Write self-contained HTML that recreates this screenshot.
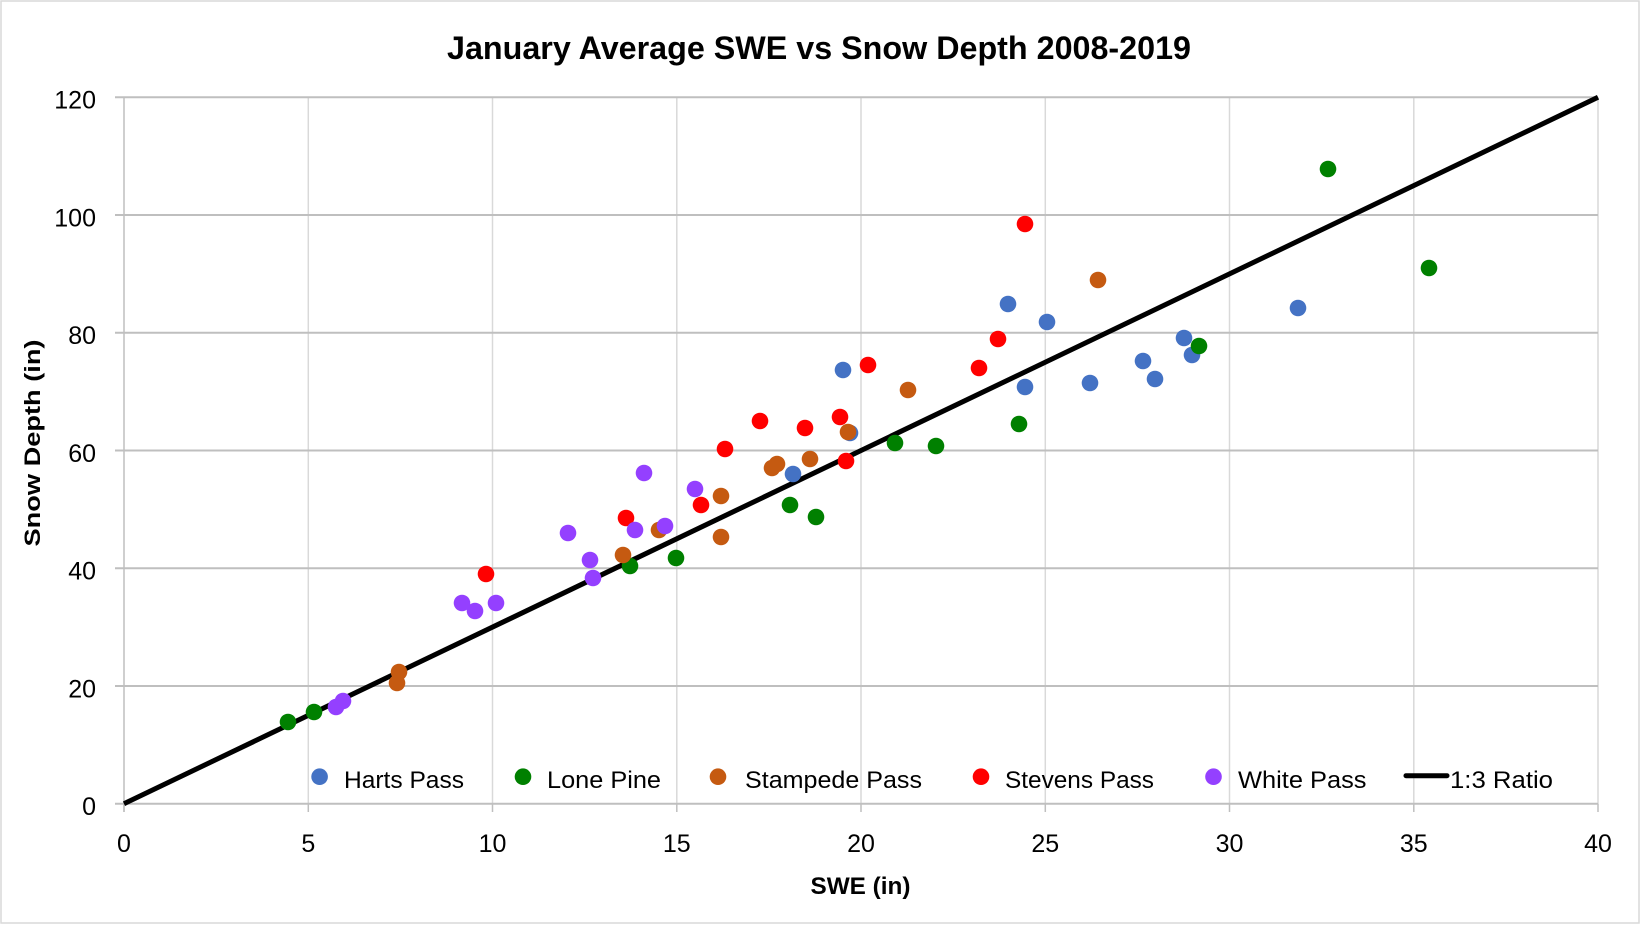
<!DOCTYPE html>
<html>
<head>
<meta charset="utf-8">
<style>
  html,body{margin:0;padding:0;background:#fff;}
  svg{display:block;}
  text{font-family:"Liberation Sans", Arial, sans-serif;fill:#000;}
</style>
</head>
<body>
<svg width="1641" height="929" viewBox="0 0 1641 929" xmlns="http://www.w3.org/2000/svg">
  <rect x="0" y="0" width="1641" height="929" fill="#fff"/>
  <rect x="1" y="1" width="1638" height="922" fill="none" stroke="#d9d9d9" stroke-width="1.5"/>

  <!-- Title -->
  <text x="447" y="59" font-size="32" font-weight="bold" textLength="744" lengthAdjust="spacingAndGlyphs">January Average SWE vs Snow Depth 2008-2019</text>

  <!-- vertical gridlines -->
  <g stroke="#d9d9d9" stroke-width="1.5">
    <line x1="308.3" y1="97.3" x2="308.3" y2="803.7"/>
    <line x1="492.5" y1="97.3" x2="492.5" y2="803.7"/>
    <line x1="676.8" y1="97.3" x2="676.8" y2="803.7"/>
    <line x1="861" y1="97.3" x2="861" y2="803.7"/>
    <line x1="1045.3" y1="97.3" x2="1045.3" y2="803.7"/>
    <line x1="1229.5" y1="97.3" x2="1229.5" y2="803.7"/>
    <line x1="1413.8" y1="97.3" x2="1413.8" y2="803.7"/>
    <line x1="1598" y1="97.3" x2="1598" y2="803.7"/>
  </g>
  <!-- x ticks -->
  <g stroke="#bfbfbf" stroke-width="1.5">
    <line x1="124" y1="803.7" x2="124" y2="812"/>
    <line x1="308.3" y1="803.7" x2="308.3" y2="812"/>
    <line x1="492.5" y1="803.7" x2="492.5" y2="812"/>
    <line x1="676.8" y1="803.7" x2="676.8" y2="812"/>
    <line x1="861" y1="803.7" x2="861" y2="812"/>
    <line x1="1045.3" y1="803.7" x2="1045.3" y2="812"/>
    <line x1="1229.5" y1="803.7" x2="1229.5" y2="812"/>
    <line x1="1413.8" y1="803.7" x2="1413.8" y2="812"/>
    <line x1="1598" y1="803.7" x2="1598" y2="812"/>
  </g>
  <!-- horizontal gridlines + y ticks -->
  <g stroke="#bfbfbf" stroke-width="2">
    <line x1="115" y1="97.3" x2="1598" y2="97.3"/>
    <line x1="115" y1="215" x2="1598" y2="215"/>
    <line x1="115" y1="332.8" x2="1598" y2="332.8"/>
    <line x1="115" y1="450.5" x2="1598" y2="450.5"/>
    <line x1="115" y1="568.3" x2="1598" y2="568.3"/>
    <line x1="115" y1="686" x2="1598" y2="686"/>
    <line x1="115" y1="803.7" x2="1598" y2="803.7"/>
  </g>
  <!-- y axis line -->
  <line x1="124" y1="97.3" x2="124" y2="812" stroke="#bfbfbf" stroke-width="1.5"/>

  <!-- y tick labels -->
  <g font-size="25" text-anchor="end">
    <text x="96" y="815">0</text>
    <text x="96" y="697.3">20</text>
    <text x="96" y="579.6">40</text>
    <text x="96" y="461.8">60</text>
    <text x="96" y="344.1">80</text>
    <text x="96" y="226.3">100</text>
    <text x="96" y="108.6">120</text>
  </g>
  <!-- x tick labels -->
  <g font-size="25" text-anchor="middle">
    <text x="124" y="852">0</text>
    <text x="308.3" y="852">5</text>
    <text x="492.5" y="852">10</text>
    <text x="676.8" y="852">15</text>
    <text x="861" y="852">20</text>
    <text x="1045.3" y="852">25</text>
    <text x="1229.5" y="852">30</text>
    <text x="1413.8" y="852">35</text>
    <text x="1598" y="852">40</text>
  </g>

  <!-- axis titles -->
  <text x="810.5" y="894" font-size="24" font-weight="bold" textLength="100" lengthAdjust="spacingAndGlyphs">SWE (in)</text>
  <text transform="translate(40,546.5) rotate(-90)" font-size="22" font-weight="bold" textLength="207" lengthAdjust="spacingAndGlyphs">Snow Depth (in)</text>

  <!-- 1:3 ratio line -->
  <line x1="124" y1="803.7" x2="1598" y2="97.3" stroke="#000" stroke-width="5"/>

  <!-- Harts Pass -->
  <g fill="#4472C4">
    <circle cx="843" cy="370" r="8.3"/>
    <circle cx="1008" cy="304" r="8.3"/>
    <circle cx="1047" cy="322" r="8.3"/>
    <circle cx="1025" cy="387" r="8.3"/>
    <circle cx="1090" cy="383" r="8.3"/>
    <circle cx="1143" cy="361" r="8.3"/>
    <circle cx="1155" cy="379" r="8.3"/>
    <circle cx="1184" cy="338" r="8.3"/>
    <circle cx="1192" cy="355" r="8.3"/>
    <circle cx="1298" cy="308" r="8.3"/>
    <circle cx="793" cy="474" r="8.3"/>
    <circle cx="850" cy="433" r="8.3"/>
  </g>
  <!-- Lone Pine -->
  <g fill="#008000">
    <circle cx="288" cy="722" r="8.3"/>
    <circle cx="314" cy="712" r="8.3"/>
    <circle cx="630" cy="566" r="8.3"/>
    <circle cx="676" cy="558" r="8.3"/>
    <circle cx="790" cy="505" r="8.3"/>
    <circle cx="816" cy="517" r="8.3"/>
    <circle cx="895" cy="443" r="8.3"/>
    <circle cx="936" cy="446" r="8.3"/>
    <circle cx="1019" cy="424" r="8.3"/>
    <circle cx="1199" cy="346" r="8.3"/>
    <circle cx="1328" cy="169" r="8.3"/>
    <circle cx="1429" cy="268" r="8.3"/>
  </g>
  <!-- Stampede Pass -->
  <g fill="#C55A11">
    <circle cx="397" cy="683" r="8.3"/>
    <circle cx="399" cy="672" r="8.3"/>
    <circle cx="623" cy="555" r="8.3"/>
    <circle cx="659" cy="530" r="8.3"/>
    <circle cx="721" cy="496" r="8.3"/>
    <circle cx="721" cy="537" r="8.3"/>
    <circle cx="772" cy="468" r="8.3"/>
    <circle cx="777" cy="464" r="8.3"/>
    <circle cx="810" cy="459" r="8.3"/>
    <circle cx="848" cy="432" r="8.3"/>
    <circle cx="908" cy="390" r="8.3"/>
    <circle cx="1098" cy="280" r="8.3"/>
  </g>
  <!-- Stevens Pass -->
  <g fill="#FF0000">
    <circle cx="486" cy="574" r="8.3"/>
    <circle cx="626" cy="518" r="8.3"/>
    <circle cx="701" cy="505" r="8.3"/>
    <circle cx="725" cy="449" r="8.3"/>
    <circle cx="760" cy="421" r="8.3"/>
    <circle cx="805" cy="428" r="8.3"/>
    <circle cx="840" cy="417" r="8.3"/>
    <circle cx="846" cy="461" r="8.3"/>
    <circle cx="868" cy="365" r="8.3"/>
    <circle cx="979" cy="368" r="8.3"/>
    <circle cx="998" cy="339" r="8.3"/>
    <circle cx="1025" cy="224" r="8.3"/>
  </g>
  <!-- White Pass -->
  <g fill="#9440FF">
    <circle cx="336" cy="707" r="8.3"/>
    <circle cx="343" cy="701" r="8.3"/>
    <circle cx="462" cy="603" r="8.3"/>
    <circle cx="475" cy="611" r="8.3"/>
    <circle cx="496" cy="603" r="8.3"/>
    <circle cx="568" cy="533" r="8.3"/>
    <circle cx="590" cy="560" r="8.3"/>
    <circle cx="593" cy="578" r="8.3"/>
    <circle cx="635" cy="530" r="8.3"/>
    <circle cx="644" cy="473" r="8.3"/>
    <circle cx="665" cy="526" r="8.3"/>
    <circle cx="695" cy="489" r="8.3"/>
  </g>

  <!-- Legend -->
  <circle cx="319.6" cy="776.7" r="8.3" fill="#4472C4"/>
  <text x="344" y="788" font-size="24" textLength="120" lengthAdjust="spacingAndGlyphs">Harts Pass</text>
  <circle cx="523" cy="776.7" r="8.3" fill="#008000"/>
  <text x="547" y="788" font-size="24" textLength="114" lengthAdjust="spacingAndGlyphs">Lone Pine</text>
  <circle cx="718" cy="776.7" r="8.3" fill="#C55A11"/>
  <text x="745" y="788" font-size="24" textLength="177" lengthAdjust="spacingAndGlyphs">Stampede Pass</text>
  <circle cx="981" cy="776.7" r="8.3" fill="#FF0000"/>
  <text x="1005" y="788" font-size="24" textLength="149" lengthAdjust="spacingAndGlyphs">Stevens Pass</text>
  <circle cx="1213.5" cy="776.7" r="8.3" fill="#9440FF"/>
  <text x="1238" y="788" font-size="24" textLength="128.5" lengthAdjust="spacingAndGlyphs">White Pass</text>
  <line x1="1406" y1="775.7" x2="1447" y2="775.7" stroke="#000" stroke-width="5" stroke-linecap="round"/>
  <text x="1450" y="788" font-size="24" textLength="103" lengthAdjust="spacingAndGlyphs">1:3 Ratio</text>
</svg>
</body>
</html>
